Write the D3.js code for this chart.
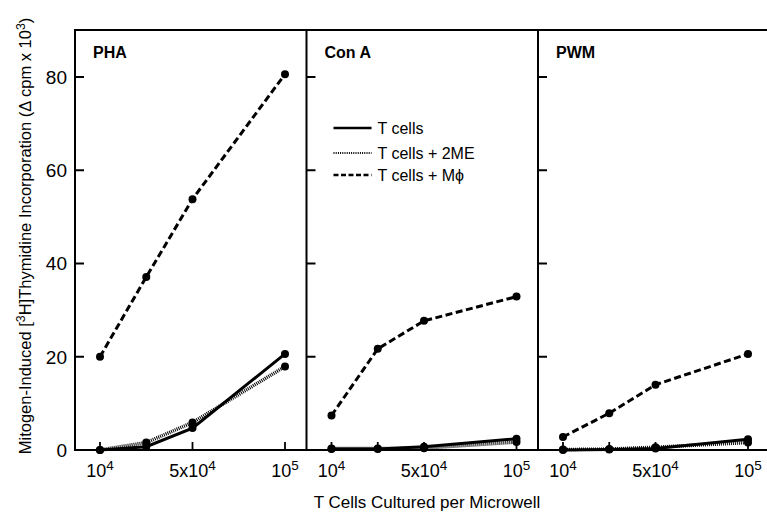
<!DOCTYPE html>
<html>
<head>
<meta charset="utf-8">
<script src="https://cdn.jsdelivr.net/npm/d3@7"></script>
<style>
  body { margin: 0; background: #fff; }
  svg { display: block; font-family: "Liberation Sans", Arial, sans-serif; }
</style>
</head>
<body>
<div id="chart"></div>
<script>
// cells cultured per microwell
var xValues = [1e4, 3e4, 5e4, 1e5];
var xTickValues = [1e4, 5e4, 1e5];
var panelNames = ["PHA", "Con A", "PWM"];
var yTickValues = [0, 20, 40, 60, 80];

// delta cpm x 10^3, one array per panel and culture
var phaTCells = [0, 0.7, 4.7, 20.6];
var phaTCells2ME = [0, 1.6, 5.9, 17.9];
var phaTCellsMphi = [20, 37.1, 53.8, 80.6];

var conATCells = [0.2, 0.2, 0.7, 2.4];
var conATCells2ME = [0.3, 0.3, 0.4, 1.7];
var conATCellsMphi = [7.4, 21.7, 27.7, 32.9];

var pwmTCells = [0, 0.1, 0.3, 2.3];
var pwmTCells2ME = [0.1, 0.2, 0.6, 1.6];
var pwmTCellsMphi = [2.8, 7.9, 14.0, 20.6];

var seriesNames = ["T cells", "T cells + 2ME", "T cells + M\u03d5"];

var panels = [
    {name: panelNames[0], series: [phaTCells, phaTCells2ME, phaTCellsMphi]},
    {name: panelNames[1], series: [conATCells, conATCells2ME, conATCellsMphi]},
    {name: panelNames[2], series: [pwmTCells, pwmTCells2ME, pwmTCellsMphi]}
];

var styles = [
    {dash: null, width: 3},
    {dash: "1,1", width: 3.5},
    {dash: "7,3.5", width: 3}
];

var W = 767, H = 520;
var margin = {top: 30, left: 75, bottom: 70};
var panelW = 231.5;
var plotH = H - margin.top - margin.bottom;

var svg = d3.select("#chart").append("svg")
    .attr("width", W)
    .attr("height", H);

var y = d3.scaleLinear()
    .domain([0, 80])
    .range([margin.top + plotH, margin.top + 47]);

// x axis is stretched unevenly in the original, 1e4..5e4 takes half the width
var x = d3.scaleLinear()
    .domain([1e4, 5e4, 1e5])
    .range([25, 117.5, 210]);

function sup(sel, base, exp) {
    sel.append("tspan").text(base);
    sel.append("tspan").attr("dy", -7).attr("font-size", "0.75em").text(exp);
}

// frame: top line and bottom axis run to the right edge
svg.append("line")
    .attr("x1", margin.left).attr("x2", W)
    .attr("y1", margin.top).attr("y2", margin.top)
    .attr("stroke", "#000").attr("stroke-width", 2);
svg.append("line")
    .attr("x1", margin.left).attr("x2", W)
    .attr("y1", y(0)).attr("y2", y(0))
    .attr("stroke", "#000").attr("stroke-width", 2);

// y tick labels
svg.append("g").selectAll("text")
    .data(yTickValues)
    .enter()
    .append("text")
    .attr("x", 67)
    .attr("y", function(d) { return y(d); })
    .attr("dy", "0.36em")
    .attr("text-anchor", "end")
    .attr("font-size", 19)
    .text(function(d) { return d; });

panels.forEach(function(p, i) {
    var left = margin.left + i * panelW;
    var g = svg.append("g").attr("transform", "translate(" + left + ",0)");

    // panel divider / left axis
    g.append("line")
        .attr("x1", 0).attr("x2", 0)
        .attr("y1", margin.top - 1).attr("y2", y(0) + 1)
        .attr("stroke", "#000").attr("stroke-width", 2);

    // inward y ticks
    g.selectAll(".ytick")
        .data(yTickValues.slice(1))
        .enter()
        .append("line")
        .attr("x1", 0).attr("x2", 9)
        .attr("y1", function(d) { return y(d); })
        .attr("y2", function(d) { return y(d); })
        .attr("stroke", "#000").attr("stroke-width", 2);

    // inward x ticks
    g.selectAll(".xtick")
        .data(xValues)
        .enter()
        .append("line")
        .attr("x1", function(d) { return x(d); })
        .attr("x2", function(d) { return x(d); })
        .attr("y1", y(0)).attr("y2", y(0) - 8)
        .attr("stroke", "#000").attr("stroke-width", 1.8);

    // x tick labels
    g.selectAll(".xlab")
        .data(xTickValues)
        .enter()
        .append("text")
        .attr("x", function(d) { return x(d); })
        .attr("y", 477)
        .attr("text-anchor", "middle")
        .attr("font-size", 18)
        .each(function(d) {
            var t = d3.select(this);
            if (d === 5e4) sup(t, "5x10", "4");
            else sup(t, "10", d === 1e4 ? "4" : "5");
        });

    // panel name
    g.append("text")
        .attr("x", 18)
        .attr("y", 58)
        .attr("font-size", 16)
        .attr("font-weight", "bold")
        .text(p.name);

    var line = d3.line()
        .x(function(d, j) { return x(xValues[j]); })
        .y(function(d) { return y(d); });

    p.series.forEach(function(vals, k) {
        g.append("path")
            .datum(vals)
            .attr("fill", "none")
            .attr("stroke", "#000")
            .attr("stroke-width", styles[k].width)
            .attr("stroke-dasharray", styles[k].dash)
            .attr("d", line);
        g.selectAll(".pt" + k)
            .data(vals)
            .enter()
            .append("circle")
            .attr("cx", function(d, j) { return x(xValues[j]); })
            .attr("cy", function(d) { return y(d); })
            .attr("r", 4)
            .attr("fill", "#000");
    });
});

// legend inside Con A panel
var legend = svg.append("g")
    .attr("transform", "translate(" + (margin.left + panelW + 27) + ",128)");
seriesNames.forEach(function(name, k) {
    var ly = [0, 25, 47][k];
    legend.append("line")
        .attr("x1", 0).attr("x2", 38)
        .attr("y1", ly).attr("y2", ly)
        .attr("stroke", "#000")
        .attr("stroke-width", k === 1 ? 2 : 2.5)
        .attr("stroke-dasharray", k === 1 ? "1,1.2" : (k === 2 ? "5,2.5" : null));
    legend.append("text")
        .attr("x", 44)
        .attr("y", ly)
        .attr("dy", "0.36em")
        .attr("font-size", 16)
        .text(name);
});

// y axis title
var yt = svg.append("text")
    .attr("transform", "translate(31,236) rotate(-90)")
    .attr("text-anchor", "middle")
    .attr("font-size", 16.5);
yt.append("tspan").text("Mitogen-Induced  [");
yt.append("tspan").attr("dy", -6).attr("font-size", "0.75em").text("3");
yt.append("tspan").attr("dy", 6).text("H]Thymidine Incorporation (\u0394 cpm x 10");
yt.append("tspan").attr("dy", -6).attr("font-size", "0.75em").text("3");
yt.append("tspan").attr("dy", 6).text(")");

// x axis title
svg.append("text")
    .attr("x", 427)
    .attr("y", 508)
    .attr("text-anchor", "middle")
    .attr("font-size", 17)
    .text("T Cells Cultured per Microwell");
</script>
</body>
</html>
